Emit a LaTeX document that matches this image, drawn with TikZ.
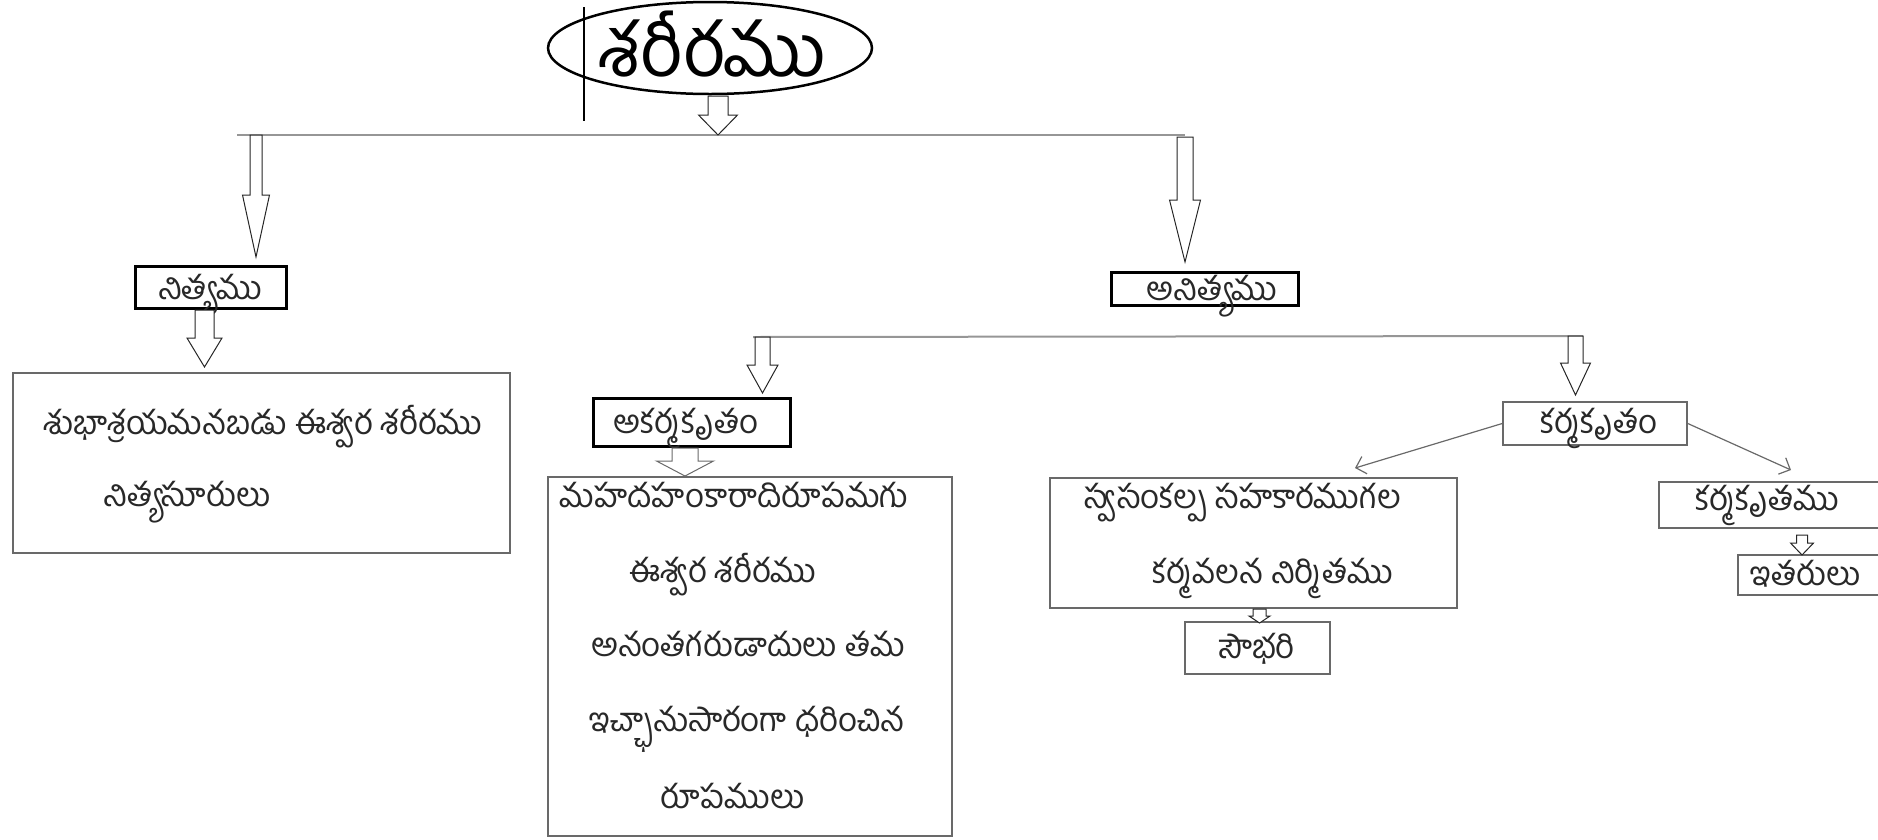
\documentclass[tikz,border=0pt]{standalone}
\usepackage{fontspec}
\newfontfamily\tel[Script=Telugu]{Hind Guntur}
\usetikzlibrary{calc,arrows.meta,shapes.geometric}
\definecolor{boxgray}{RGB}{105,105,105}
\definecolor{linegray}{RGB}{150,150,150}
\definecolor{txt}{RGB}{40,40,40}
\newcommand\blkarrow[6][]{%
  \draw[barrow,#1] let \p1=(#2), \p2=(#3) in
  (\x1-#4,\y1) -- (\x1-#4,\y2+#6) -- (\x1-#5,\y2+#6) -- (\x1,\y2) --
  (\x1+#5,\y2+#6) -- (\x1+#4,\y2+#6) -- (\x1+#4,\y1) -- cycle;}
\tikzset{
  thinbox/.style={draw=boxgray, line width=1.6pt, inner sep=0pt},
  thickbox/.style={draw=black, line width=3pt, inner sep=0pt},
  lbl/.style={font=\tel\fontsize{33}{38}\selectfont, text=txt, inner sep=0pt, anchor=base},
  barrow/.style={draw=black!85, line width=1pt, fill=white, line join=miter},
  grayarrow/.style={draw=boxgray},
  hline/.style={draw=linegray, line width=2pt},
  thinarrow/.style={draw=boxgray, line width=1.2pt, -{Straight Barb[length=9pt,width=18pt]}},
}
\begin{document}
\begin{tikzpicture}[x=1pt,y=-1pt]
\useasboundingbox (0,0) rectangle (1878,839);
% title
\node[draw=black, line width=2.5pt, ellipse, minimum width=324pt, minimum height=92pt, inner sep=0pt] (title) at (710,48) {};
\node[lbl, font=\tel\fontsize{74}{78}\selectfont, text=black] (titletext) at (712,76) {శరీరము};
\coordinate (cur1) at (584,7); \coordinate (cur2) at (584,121);
\draw[black, line width=1.3pt] (cur1) -- (cur2);
% horizontal connector lines
\coordinate (h1l) at (237,135); \coordinate (h1r) at (1185,135);
\draw[hline] (h1l) -- (h1r);
\coordinate (h2l) at (753,337); \coordinate (h2r) at (1583,336);
\draw[hline] (h2l) -- (h2r);
% boxes
\node[thickbox, minimum width=151pt, minimum height=42pt] (nitya) at (210.5,287) {};
\node[lbl] (nityat) at (210,299) {నిత్యము};
\node[thinbox, minimum width=497pt, minimum height=180pt] (lbox) at (261.5,463) {};
\node[lbl] (lbox1) at (262.5,434) {శుభాశ్రయమనబడు ఈశ్వర శరీరము};
\node[lbl] (lbox2) at (187,506) {నిత్యసూరులు};
\node[thickbox, minimum width=187pt, minimum height=33pt] (anitya) at (1205,289) {};
\node[lbl] (anityat) at (1212,300) {అనిత్యము};
\node[thickbox, minimum width=197pt, minimum height=48pt] (akarma) at (692,422) {};
\node[lbl] (akarmat) at (686,433) {అకర్మకృతం};
\node[thinbox, minimum width=184pt, minimum height=43pt] (karma) at (1595,423.5) {};
\node[lbl] (karmat) at (1599,433) {కర్మకృతం};
\node[thinbox, minimum width=404pt, minimum height=359pt] (mbox) at (750,656.5) {};
\node[lbl] (mbox1) at (734,507) {మహదహంకారాదిరూపమగు};
\node[lbl] (mbox2) at (723,582) {ఈశ్వర శరీరము};
\node[lbl] (mbox3) at (748,656) {అనంతగరుడాదులు తమ};
\node[lbl] (mbox4) at (747,731) {ఇచ్ఛానుసారంగా ధరించిన};
\node[lbl] (mbox5) at (732.5,808) {రూపములు};
\node[thinbox, minimum width=407pt, minimum height=130pt] (sbox) at (1253.5,543) {};
\node[lbl] (sbox1) at (1242.5,508) {స్వసంకల్ప సహకారముగల};
\node[lbl] (sbox2) at (1272.5,583) {కర్మవలన నిర్మితము};
\node[thinbox, minimum width=145pt, minimum height=52pt] (saubhari) at (1257.5,648) {};
\node[lbl] (saubharit) at (1257,658) {సౌభరి};
\node[thinbox, minimum width=223pt, minimum height=46pt] (kkbox) at (1770.5,505) {};
\node[lbl] (kkboxt) at (1767.5,510) {కర్మకృతము};
\node[thinbox, minimum width=144pt, minimum height=40pt] (itar) at (1810,575) {};
\node[lbl] (itart) at (1805.5,585) {ఇతరులు};
% block arrows
\coordinate (a1s) at (718,96); \coordinate (a1e) at (718,135);
\blkarrow{a1s}{a1e}{10pt}{19.5pt}{20pt}
\coordinate (a2s) at (256,135); \coordinate (a2e) at (256,257);
\blkarrow{a2s}{a2e}{6pt}{13.5pt}{62pt}
\coordinate (a3s) at (1185,137); \coordinate (a3e) at (1185,262);
\blkarrow{a3s}{a3e}{8pt}{15.5pt}{62pt}
\coordinate (a4s) at (204.5,310); \coordinate (a4e) at (204.5,367);
\blkarrow{a4s}{a4e}{9.5pt}{17.5pt}{29pt}
\coordinate (a5s) at (762.5,337); \coordinate (a5e) at (762.5,393);
\blkarrow{a5s}{a5e}{7.5pt}{15.5pt}{28pt}
\coordinate (a6s) at (1575.5,336); \coordinate (a6e) at (1575.5,395);
\blkarrow{a6s}{a6e}{7.5pt}{15pt}{32pt}
\coordinate (a7s) at (685,448); \coordinate (a7e) at (685,476);
\blkarrow[grayarrow]{a7s}{a7e}{13pt}{28.5pt}{15pt}
\coordinate (a8s) at (1259.5,609); \coordinate (a8e) at (1259.5,623);
\blkarrow{a8s}{a8e}{6.5pt}{10.5pt}{7pt}
\coordinate (a9s) at (1802,535); \coordinate (a9e) at (1802,555);
\blkarrow{a9s}{a9e}{5.5pt}{11.5pt}{12pt}
% thin arrows from karma box
\coordinate (k1) at (1355,468); \coordinate (k2) at (1791,470);
\draw[thinarrow] (karma.west) -- (k1);
\draw[thinarrow] (karma.east) -- (k2);
\end{tikzpicture}
\end{document}
